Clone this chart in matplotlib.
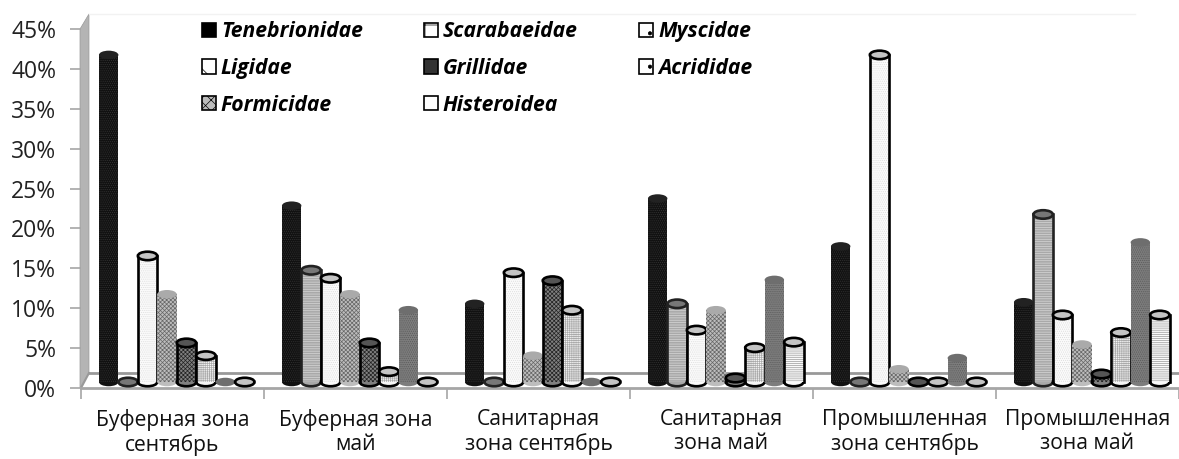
import matplotlib
matplotlib.use('Agg')
import matplotlib.pyplot as plt
from matplotlib.patches import Ellipse, Polygon, Patch

plt.rcParams['font.family'] = ['Open Sans', 'Noto Sans', 'DejaVu Sans']
plt.rcParams['hatch.linewidth'] = 0.5

groups = ['Буферная зона\nсентябрь', 'Буферная зона\nмай', 'Санитарная\nзона сентябрь',
          'Санитарная\nзона май', 'Промышленная\nзона сентябрь', 'Промышленная\nзона май']
names = ['Tenebrionidae', 'Scarabaeidae', 'Myscidae', 'Ligidae',
         'Grillidae', 'Acrididae', 'Formicidae', 'Histeroidea']

tenebrionidae = [41.0, 22.1, 9.8, 23.0, 17.0, 10.0]
scarabaeidae = [0, 14.0, 0, 9.8, 0, 21.0]
myscidae = [15.8, 13.0, 13.7, 6.5, 41.0, 8.4]
ligidae = [11.0, 11.0, 3.3, 9.0, 1.6, 4.7]
grillidae = [4.9, 4.9, 12.7, 0.5, 0, 1.0]
acrididae = [3.3, 1.3, 9.0, 4.3, 0, 6.2]
formicidae = [0, 9.0, 0, 12.8, 3.0, 17.5]
histeroidea = [0, 0, 0, 5.0, 0, 8.4]
series = [tenebrionidae, scarabaeidae, myscidae, ligidae,
          grillidae, acrididae, formicidae, histeroidea]

# face, hatch, hatch colour, cap colour, outline
styles = [('#111111', '........', '#333333', '#222222', 'none'),
          ('#a9a9a9', '-------', '#d8d8d8', '#777777', '#222222'),
          ('#fbfbfb', '........', '#dddddd', '#c4c4c4', 'black'),
          ('#bdbdbd', 'xxxxxxxx', '#666666', '#aaaaaa', 'none'),
          ('#808080', 'xxxxxxxx', '#222222', '#555555', 'black'),
          ('#f6f6f6', '++++++++', '#aaaaaa', '#c4c4c4', 'black'),
          ('#7d7d7d', '........', '#5a5a5a', '#6e6e6e', 'none'),
          ('#fafafa', '--------', '#999999', '#c4c4c4', 'black')]
# legend keys are small boxes with their own pattern
key_faces = ['#000000', 'white', 'white', 'white', '#333333', 'white', '#bbbbbb', 'white']
key_hatches = ['', '+', '.', '\\', '', '.', 'xxx', '']

W, H = 1179, 459
fig = plt.figure(figsize=(W / 100, H / 100), dpi=100)
ax = fig.add_axes([81 / W, (H - 388) / H, (W - 81) / W, 359 / H])
ax.set_xlim(0, (W - 81) / 183.5)
ax.set_ylim(0, 45)

px = 1 / 183.5      # one pixel in x units
py = 45 / 359       # one pixel in y units
depth_x = 8 * px
depth_y = 15 * py
gray = '#a6a6a6'

# left wall and floor
ax.add_patch(Polygon([(-1 * px, 0), (depth_x, depth_y), (depth_x, 45 + depth_y), (-1 * px, 45)],
                     closed=True, fc='#b4b4b4', ec='#999999', lw=0.5, clip_on=False, zorder=1))
ax.plot([depth_x, 7], [depth_y, depth_y], color='#999999', lw=2, zorder=1)
ax.plot([0, depth_x], [0, depth_y], color='#999999', lw=1.5, zorder=1)
ax.plot([depth_x, 5.76], [45 + depth_y, 45 + depth_y], color='#f2f2f2', lw=1, clip_on=False, zorder=1)

bar_w = 19.5 * px
base = 6 * py
cap_h = 8.5 * py
start = 18 * px
z = 3
for g in range(len(groups)):
    for s, vals in enumerate(series):
        face, hatch, hcol, cap, edge = styles[s]
        x = g + start + s * bar_w + bar_w / 2
        v = vals[g]
        lw = 1.9 if edge != 'none' else 0
        ax.add_patch(Ellipse((x, base), bar_w, cap_h, fc=face if v > 0 else cap,
                             ec=edge, lw=lw, zorder=z))
        if v > 0:
            ax.bar(x, v, bar_w, bottom=base, color=face, hatch=hatch, edgecolor=hcol, linewidth=0, zorder=z + 1)
            if edge != 'none':
                ax.plot([x - bar_w / 2, x - bar_w / 2], [base, base + v], color=edge, lw=lw, zorder=z + 2)
                ax.plot([x + bar_w / 2, x + bar_w / 2], [base, base + v], color=edge, lw=lw, zorder=z + 2)
            ax.add_patch(Ellipse((x, base + v), bar_w, cap_h, fc=cap, ec=edge, lw=lw, zorder=z + 3))
        z += 4

for sp in ['top', 'right', 'left']:
    ax.spines[sp].set_visible(False)
ax.spines['bottom'].set_color(gray)
ax.spines['bottom'].set_linewidth(2)

ax.set_yticks(range(0, 50, 5))
ax.set_yticklabels([str(v) + '%' for v in range(0, 50, 5)], fontsize=16.5, color='#222222')
ax.tick_params(axis='y', length=8, width=1.2, color=gray, pad=10)

ax.set_xticks(range(0, 7))
ax.set_xticklabels([])
ax.set_xticks([i + 0.5 for i in range(6)], minor=True)
ax.set_xticklabels(groups, minor=True, fontsize=15.2, color='#111111', linespacing=1.2)
ax.tick_params(axis='x', which='major', length=8, width=1.2, color=gray)
ax.tick_params(axis='x', which='minor', length=0, pad=15)

handles = [Patch(fc=key_faces[i], hatch=key_hatches[i], ec='black', lw=1.2) for i in range(8)]
order = [0, 3, 6, 1, 4, 7, 2, 5]
ax.legend([handles[i] for i in order], [names[i] for i in order], ncol=3, frameon=False,
          loc='upper left', bbox_to_anchor=(0.110, 1.022), handlelength=0.66, handleheight=0.66,
          handletextpad=0.24, columnspacing=2.9, labelspacing=0.75, borderpad=0, borderaxespad=0,
          prop={'size': 15.2, 'weight': 'bold', 'style': 'italic', 'family': 'Open Sans'})

fig.savefig('out.png', dpi=100)
